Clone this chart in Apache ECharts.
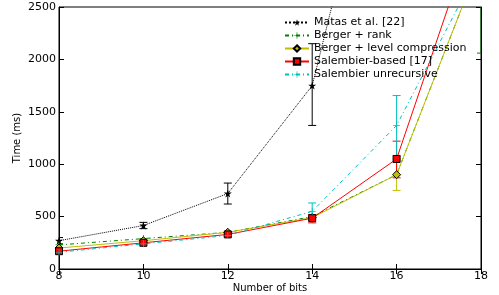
<!DOCTYPE html>
<html>
<head>
<meta charset="utf-8">
<script src="https://cdn.jsdelivr.net/npm/echarts@6/dist/echarts.min.js"></script>
<style>
  html, body { margin: 0; padding: 0; background: #fff; }
  #chart { width: 499px; height: 295px; }
</style>
</head>
<body>
<div id="chart"></div>
<script>
// data
const bits = [8, 10, 12, 14, 16, 18];
const seriesNames = ['Matas et al. [22]', 'Berger + rank', 'Berger + level compression', 'Salembier-based [17]', 'Salembier unrecursive'];
const matas = [270, 415, 720, 1750, 5000, null];
const bergerRank = [230, 290, 350, 500, 900, 2960];
const bergerLevel = [200, 270, 350, 490, 900, 2960];
const salembier = [170, 250, 330, 485, 1050, 3420];
const salembierUnrec = [160, 240, 320, 550, 1370, 2920];
// error bars: [x, low, high]
const errMatas = [[8, 240, 300], [10, 385, 445], [12, 620, 820], [14, 1370, 2150]];
const errBergerRank = [[18, 2060, 3200]];
const errBergerLevel = [[16, 750, 1050]];
const errSalembier = [[14, 440, 520], [16, 870, 1220]];
const errSalembierUnrec = [[14, 480, 630], [16, 1080, 1655]];

const colors = ['#000000', '#008000', '#bfbf00', '#ff0000', '#00bfbf'];
const starPath = 'path://M50,0 L61,35 L98,35 L68,57 L79,91 L50,70 L21,91 L32,57 L2,35 L39,35 Z';
const plusPath = 'path://M45,0 L55,0 L55,45 L100,45 L100,55 L55,55 L55,100 L45,100 L45,55 L0,55 L0,45 L45,45 Z';

const pair = (ys) => bits.map((x, i) => [x, ys[i]]);

const chart = echarts.init(document.getElementById('chart'));

const errSeries = (data, color) => ({
  type: 'custom',
  data: data,
  z: 1,
  silent: true,
  clip: true,
  renderItem(params, api) {
    const x = api.value(0);
    const lo = api.coord([x, api.value(1)]);
    const hi = api.coord([x, api.value(2)]);
    const w = 4;
    const style = { stroke: color, lineWidth: 1 };
    return {
      type: 'group',
      children: [
        { type: 'line', shape: { x1: lo[0], y1: lo[1], x2: hi[0], y2: hi[1] }, style },
        { type: 'line', shape: { x1: lo[0] - w, y1: lo[1], x2: lo[0] + w, y2: lo[1] }, style },
        { type: 'line', shape: { x1: hi[0] - w, y1: hi[1], x2: hi[0] + w, y2: hi[1] }, style },
      ],
    };
  },
});

const lineSeries = (name, ys, color, symbol, size, lineType, symbolColor) => ({
  name: name,
  type: 'line',
  data: pair(ys),
  symbol: symbol,
  symbolSize: size,
  showAllSymbol: true,
  clip: true,
  z: 3,
  lineStyle: { color: color, width: 1, type: lineType },
  itemStyle: { color: symbolColor || color, borderColor: '#000', borderWidth: symbolColor ? 1 : 0 },
  emphasis: { disabled: true },
});

chart.setOption({
  animation: false,
  textStyle: { fontFamily: 'DejaVu Sans' },
  color: colors,
  grid: {
    left: 59, right: 18, top: 7, bottom: 26,
    outerBoundsMode: 'none', containLabel: false,
    show: true, borderColor: '#000', borderWidth: 1,
  },
  legend: {
    data: seriesNames,
    orient: 'vertical',
    left: 279,
    top: 12,
    itemGap: 2,
    itemWidth: 24,
    itemHeight: 8,
    textStyle: { fontSize: 11, color: '#000', fontFamily: 'DejaVu Sans' },
  },
  xAxis: [
    {
      type: 'value', min: 8, max: 18, interval: 2,
      name: 'Number of bits', nameLocation: 'middle', nameGap: 14, nameMoveOverlap: false,
      nameTextStyle: { fontSize: 10, color: '#000' },
      axisLine: { show: true, lineStyle: { color: '#000' } },
      axisTick: { inside: true, length: 5, lineStyle: { color: '#000' } },
      axisLabel: { fontSize: 11, color: '#000', margin: 2 },
      splitLine: { show: false },
    },
    {
      type: 'value', min: 8, max: 18, interval: 2, position: 'top',
      axisLine: { show: true, lineStyle: { color: '#000' } },
      axisTick: { inside: true, length: 5, lineStyle: { color: '#000' } },
      axisLabel: { show: false },
      splitLine: { show: false },
    },
  ],
  yAxis: [
    {
      type: 'value', min: 0, max: 2500, interval: 500,
      name: 'Time (ms)', nameLocation: 'middle', nameGap: 37, nameMoveOverlap: false,
      nameTextStyle: { fontSize: 10, color: '#000' },
      axisLine: { show: true, lineStyle: { color: '#000' } },
      axisTick: { inside: true, length: 5, lineStyle: { color: '#000' } },
      axisLabel: { fontSize: 11, color: '#000', margin: 3, formatter: (v) => String(v) },
      splitLine: { show: false },
    },
    {
      type: 'value', min: 0, max: 2500, interval: 500, position: 'right',
      axisLine: { show: true, lineStyle: { color: '#000' } },
      axisTick: { inside: true, length: 5, lineStyle: { color: '#000' } },
      axisLabel: { show: false },
      splitLine: { show: false },
    },
  ],
  series: [
    errSeries(errMatas, '#000'),
    errSeries(errBergerRank, colors[1]),
    errSeries(errBergerLevel, colors[2]),
    errSeries(errSalembier, colors[3]),
    errSeries(errSalembierUnrec, colors[4]),
    lineSeries(seriesNames[0], matas, colors[0], starPath, 8, 'dotted'),
    lineSeries(seriesNames[1], bergerRank, colors[1], plusPath, 7, [4, 3, 1, 3]),
    lineSeries(seriesNames[2], bergerLevel, colors[2], 'diamond', 8, 'solid', '#bfbf00'),
    lineSeries(seriesNames[3], salembier, colors[3], 'rect', 7, 'solid', '#ff0000'),
    lineSeries(seriesNames[4], salembierUnrec, colors[4], plusPath, 7, [4, 3, 1, 3]),
  ],
});
</script>
</body>
</html>
